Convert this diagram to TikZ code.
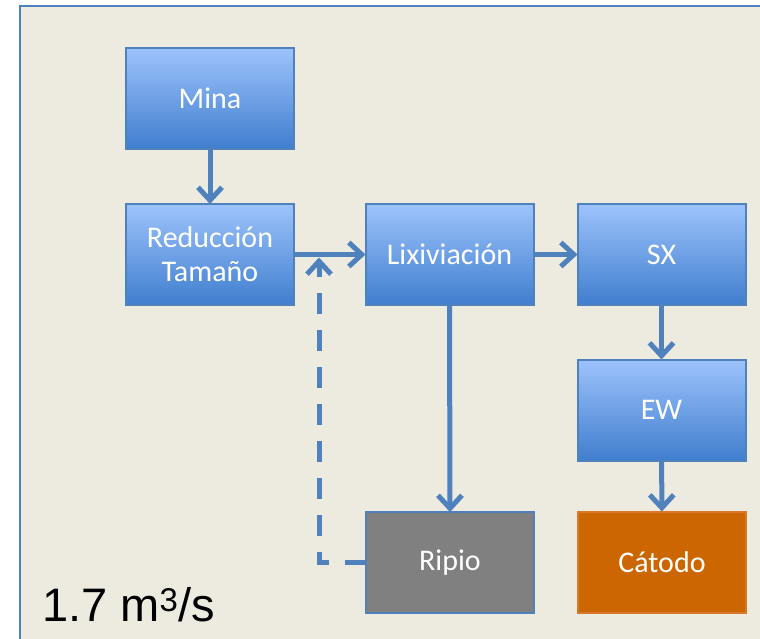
\documentclass[tikz,border=0pt]{standalone}
\usepackage{fontspec}
\setmainfont{Carlito}
\newfontfamily\arialfont{Liberation Sans}
\usetikzlibrary{arrows.meta}
\definecolor{bgbeige}{RGB}{237,235,224}
\definecolor{frameblue}{RGB}{79,129,189}
\definecolor{arrowblue}{RGB}{79,129,189}
\definecolor{boxtop}{RGB}{157,195,252}
\definecolor{boxbot}{RGB}{64,126,206}
\definecolor{ripiogray}{RGB}{128,128,128}
\definecolor{catodo}{RGB}{204,102,0}
\definecolor{catodoedge}{RGB}{217,120,40}
\tikzset{
  procbox/.style={rectangle, minimum width=168pt, minimum height=101pt, inner sep=0pt, outer sep=0pt,
    draw=frameblue, line width=2pt, top color=boxtop, bottom color=boxbot,
    text=white, align=center, font=\fontsize{30}{34}\selectfont},
  graybox/.style={procbox, top color=ripiogray, bottom color=ripiogray, fill=ripiogray},
  orangebox/.style={procbox, draw=catodoedge, top color=catodo, bottom color=catodo, fill=catodo},
  flow/.style={draw=arrowblue, line width=5pt, -{Straight Barb[length=13pt,width=24pt]}},
  dflow/.style={flow, dash pattern=on 21pt off 16pt}
}
\begin{document}
\begin{tikzpicture}[x=1pt,y=-1pt]
\path[use as bounding box] (0,0) rectangle (760,639);
\fill[white] (0,0) rectangle (760,639);
\draw[frameblue, line width=2pt, fill=bgbeige] (20,6) rectangle (790,670);
\node[procbox] (mina) at (210,98.5) {Mina};
\node[procbox] (red) at (210,254.5) {Reducción\\Tamaño};
\node[procbox] (lix) at (449.5,254.5) {Lixiviación};
\node[procbox] (sx) at (661.5,254.5) {SX};
\node[procbox] (ew) at (661.5,410) {EW};
\node[graybox] (ripio) at (450,562.5) {Ripio};
\node[orangebox] (cat) at (662,562) {Cátodo};
\node[anchor=base west, inner sep=0pt, font=\arialfont\fontsize{47}{50}\selectfont] (flowrate) at (42,621) {1.7 m\textsuperscript{3}/s};
\coordinate (dtip) at (319,257.5);
\draw[flow] (mina) -- (red);
\draw[flow] (red) -- (lix);
\draw[flow] (lix) -- (sx);
\draw[flow] (sx) -- (ew);
\draw[flow] (ew) -- (cat);
\draw[flow] (lix.south) -- (ripio.north);
\draw[dflow] (ripio.west) -| (dtip);
\end{tikzpicture}
\end{document}
